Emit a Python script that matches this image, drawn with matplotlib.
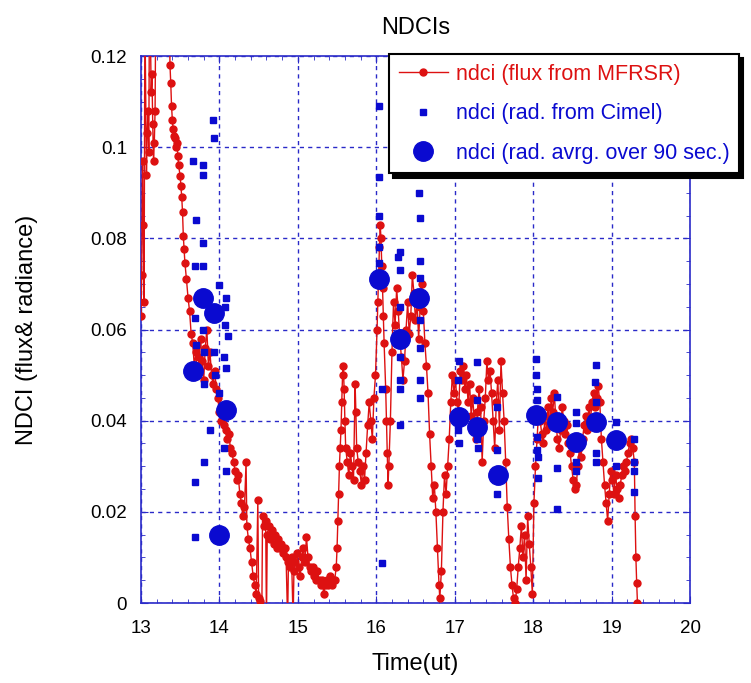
import matplotlib
matplotlib.use('Agg')
import matplotlib.pyplot as plt
from matplotlib.ticker import MultipleLocator

plt.rcParams['font.family'] = ['Liberation Sans', 'DejaVu Sans']

# ndci from MFRSR flux (time in hours UT)
flux_t = [13.00, 13.01, 13.02, 13.03, 13.04, 13.05, 13.07, 13.08, 13.09, 13.10,
          13.11, 13.13, 13.14, 13.15, 13.16, 13.17, 13.18, 13.19,
          13.36, 13.37, 13.38, 13.39, 13.40, 13.41, 13.42, 13.44, 13.45, 13.46,
          13.47, 13.48, 13.50, 13.51, 13.52, 13.53, 13.54, 13.55, 13.56, 13.58,
          13.60, 13.62, 13.64, 13.66, 13.68, 13.70, 13.72, 13.74, 13.76, 13.78,
          13.80, 13.82, 13.84, 13.86, 13.88, 13.90, 13.92, 13.94, 13.96, 13.98,
          14.00, 14.02, 14.04, 14.06, 14.08, 14.10, 14.12, 14.14, 14.16, 14.18,
          14.20, 14.22, 14.24, 14.26, 14.28, 14.30, 14.32, 14.34, 14.35, 14.37,
          14.39, 14.41, 14.43, 14.45, 14.47, 14.49, 14.50, 14.52, 14.54, 14.55,
          14.57, 14.59, 14.60, 14.61, 14.63, 14.65, 14.67, 14.69, 14.71, 14.73,
          14.75, 14.77, 14.79, 14.81, 14.83, 14.85, 14.87, 14.88, 14.90, 14.92,
          14.94, 14.95, 14.97, 14.99, 15.01, 15.03, 15.05, 15.07, 15.09, 15.11,
          15.13, 15.15, 15.17, 15.19, 15.21, 15.23, 15.25, 15.27, 15.29, 15.31,
          15.33, 15.35, 15.37, 15.39, 15.41, 15.43, 15.45, 15.47, 15.49, 15.50,
          15.51, 15.52, 15.53, 15.54, 15.55, 15.56, 15.57, 15.58, 15.59, 15.60,
          15.61, 15.63, 15.65, 15.67, 15.69, 15.71, 15.73, 15.74, 15.75, 15.77,
          15.79, 15.81, 15.83, 15.85, 15.87, 15.89, 15.91, 15.93, 15.95, 15.97,
          15.99, 16.01, 16.02, 16.03, 16.04, 16.05, 16.06, 16.07, 16.08, 16.09,
          16.10, 16.12, 16.13, 16.14, 16.15, 16.16, 16.18, 16.20, 16.22, 16.24,
          16.26, 16.28, 16.30, 16.32, 16.34, 16.36, 16.38, 16.40, 16.42, 16.44,
          16.46, 16.48, 16.50, 16.52, 16.54, 16.56, 16.58, 16.60, 16.62, 16.64,
          16.66, 16.68, 16.70, 16.72, 16.74, 16.76, 16.78, 16.80, 16.81, 16.83,
          16.85, 16.87, 16.89, 16.91, 16.93, 16.95, 16.97, 16.99, 17.01, 17.03,
          17.05, 17.07, 17.09, 17.11, 17.13, 17.15, 17.17, 17.19, 17.21, 17.23,
          17.25, 17.27, 17.29, 17.31, 17.33, 17.35, 17.37, 17.39, 17.41, 17.43,
          17.45, 17.47, 17.49, 17.51, 17.53, 17.55, 17.57, 17.59, 17.61, 17.63,
          17.65, 17.67, 17.69, 17.71, 17.73, 17.75, 17.77, 17.79, 17.81, 17.83,
          17.85, 17.87, 17.89, 17.91, 17.93, 17.95, 17.97, 17.99, 18.01, 18.03,
          18.05, 18.07, 18.09, 18.11, 18.13, 18.15, 18.17, 18.19, 18.21, 18.23,
          18.25, 18.27, 18.29, 18.31, 18.33, 18.35, 18.37, 18.39, 18.41, 18.43,
          18.45, 18.47, 18.49, 18.51, 18.53, 18.55, 18.57, 18.59, 18.61, 18.63,
          18.65, 18.67, 18.69, 18.71, 18.73, 18.75, 18.77, 18.79, 18.81, 18.83,
          18.85, 18.87, 18.89, 18.91, 18.93, 18.95, 18.97, 18.99, 19.01, 19.03,
          19.05, 19.07, 19.09, 19.11, 19.13, 19.15, 19.17, 19.19, 19.21, 19.23,
          19.25, 19.27, 19.29, 19.30, 19.31, 19.32, 19.33]
flux_v = [0.063, 0.072, 0.097, 0.083, 0.066, 0.130, 0.094, 0.103, 0.108, 0.099,
          0.140, 0.112, 0.116, 0.105, 0.097, 0.101, 0.108, 0.135,
          0.130, 0.118, 0.114, 0.109, 0.106, 0.104, 0.1025, 0.102, 0.100, 0.101,
          0.098, 0.096, 0.0936, 0.0914, 0.089, 0.0857, 0.0805, 0.0776, 0.0747, 0.071,
          0.067, 0.064, 0.059, 0.057, 0.052, 0.055, 0.050, 0.054, 0.058, 0.053,
          0.049, 0.056, 0.060, 0.052, 0.055, 0.050, 0.048, 0.051, 0.047, 0.045,
          0.042, 0.040, 0.041, 0.039, 0.038, 0.036, 0.037, 0.034, 0.033, 0.031,
          0.029, 0.027, 0.028, 0.024, 0.022, 0.019, 0.021, 0.031, 0.017, 0.014,
          0.012, 0.009, 0.006, 0.004, 0.002, 0.0226, 0.001, 0.0005, -0.004, 0.019,
          0.017, 0.018, -0.004, 0.015, 0.017, 0.014, 0.016, 0.013, 0.015, 0.012,
          0.014, 0.012, 0.013, 0.011, 0.012, 0.010, -0.004, 0.009, 0.008, 0.010,
          -0.004, 0.007, 0.009, 0.011, 0.008, 0.006, 0.010, 0.012, 0.009, 0.0145,
          0.010, 0.008, 0.007, 0.008, 0.006, 0.005, 0.007, 0.005, 0.004, 0.005,
          0.002, 0.004, 0.005, 0.004, 0.006, 0.004, 0.005, 0.005, 0.008, 0.012,
          0.018, 0.024, 0.030, 0.034, 0.038, 0.044, 0.050, 0.052, 0.047, 0.040,
          0.034, 0.031, 0.028, 0.033, 0.030, 0.027, 0.048, 0.042, 0.034, 0.031,
          0.029, 0.026, 0.030, 0.027, 0.033, 0.039, 0.044, 0.040, 0.036, 0.045,
          0.050, 0.060, 0.066, 0.072, 0.078, 0.083, 0.080, 0.074, 0.069, 0.063,
          0.057, 0.047, 0.040, 0.033, 0.026, 0.030, 0.040, 0.055, 0.066, 0.061,
          0.069, 0.064, 0.058, 0.054, 0.049, 0.053, 0.060, 0.066, 0.059, 0.063,
          0.072, 0.068, 0.062, 0.066, 0.058, 0.065, 0.070, 0.064, 0.057, 0.052,
          0.046, 0.037, 0.030, 0.023, 0.026, 0.020, 0.012, 0.004, 0.001, 0.007,
          0.020, 0.028, 0.024, 0.030, 0.036, 0.044, 0.050, 0.046, 0.049, 0.044,
          0.042, 0.051, 0.049, 0.052, 0.047, 0.050, 0.044, 0.048, 0.041, 0.045,
          0.040, 0.036, 0.042, 0.047, 0.043, 0.031, 0.040, 0.045, 0.053, 0.049,
          0.051, 0.046, 0.040, 0.034, 0.044, 0.049, 0.038, 0.053, 0.046, 0.040,
          0.031, 0.021, 0.014, 0.008, 0.004, 0.001, 0.000, 0.003, 0.008, 0.012,
          0.017, 0.010, 0.015, 0.005, 0.019, 0.013, 0.008, 0.002, 0.022, 0.030,
          0.036, 0.042, 0.040, 0.037, 0.035, 0.041, 0.038, 0.043, 0.039, 0.045,
          0.042, 0.046, 0.040, 0.036, 0.034, 0.038, 0.043, 0.040, 0.037, 0.039,
          0.035, 0.033, 0.030, 0.027, 0.025, 0.026, 0.030, 0.034, 0.032, 0.036,
          0.039, 0.041, 0.038, 0.043, 0.040, 0.044, 0.046, 0.043, 0.045, 0.0475,
          0.044, 0.036, 0.031, 0.026, 0.022, 0.018, 0.024, 0.029, 0.027, 0.024,
          0.028, 0.025, 0.023, 0.026, 0.028, 0.030, 0.029, 0.031, 0.033, 0.035,
          0.036, 0.034, 0.031, 0.019, 0.010, 0.0044, 0.000]

# ndci from Cimel radiances
cimel_t = [13.92, 13.93, 13.66, 13.79, 13.79, 13.70, 13.79, 13.69, 13.79, 14.00,
           14.08, 14.07, 14.07, 14.11, 13.79, 13.69, 13.70, 13.81, 13.93, 14.06,
           13.94, 14.08, 13.81, 13.88, 14.06, 13.80, 14.08, 13.99,
           16.04, 16.04, 16.54, 16.56, 16.04, 16.56, 16.30, 16.28, 16.04, 16.04,
           16.30, 16.56, 16.30, 16.56, 16.30, 16.56, 16.30, 16.56, 16.30, 16.56,
           16.07, 16.30, 16.07,
           17.06, 17.28, 17.04, 17.28, 17.54, 17.04, 17.05, 17.29, 17.30, 17.54,
           17.54,
           18.04, 18.04, 18.05, 18.05, 18.05, 18.05, 18.06, 18.06, 18.30, 18.30,
           18.30, 18.55, 18.55, 18.55, 18.55, 18.80, 18.79, 18.80, 18.80, 18.80,
           19.05, 19.05, 19.29, 19.29, 19.29, 19.29,
           13.69, 13.69]
cimel_v = [0.106, 0.102, 0.097, 0.096, 0.094, 0.084, 0.079, 0.074, 0.074, 0.0697,
           0.067, 0.065, 0.061, 0.0585, 0.060, 0.0626, 0.0567, 0.055, 0.055, 0.054,
           0.050, 0.0516, 0.048, 0.038, 0.034, 0.031, 0.029, 0.046,
           0.109, 0.0934, 0.090, 0.0844, 0.085, 0.075, 0.077, 0.076, 0.078, 0.0747,
           0.073, 0.0714, 0.065, 0.062, 0.054, 0.056, 0.049, 0.049, 0.047, 0.045,
           0.047, 0.039, 0.0088,
           0.053, 0.0528, 0.049, 0.0446, 0.043, 0.038, 0.035, 0.036, 0.034, 0.0336,
           0.024,
           0.0536, 0.050, 0.047, 0.0446, 0.0365, 0.0336, 0.032, 0.0275, 0.0453, 0.0297,
           0.0206, 0.042, 0.0395, 0.031, 0.029, 0.0523, 0.0484, 0.044, 0.033, 0.031,
           0.0398, 0.030, 0.036, 0.031, 0.029, 0.0244,
           0.0266, 0.0145]

# Cimel radiances averaged over 90 s
avg_t = [13.66, 13.79, 13.93, 14.08, 13.99, 16.04, 16.30, 16.55,
         17.05, 17.29, 17.55, 18.04, 18.30, 18.55, 18.80, 19.05]
avg_v = [0.0508, 0.067, 0.0637, 0.0424, 0.0149, 0.071, 0.058, 0.067,
         0.0409, 0.0387, 0.028, 0.0413, 0.0398, 0.0354, 0.0398, 0.0358]

red = '#dd1111'
blue = '#0a0ad0'
gridblue = '#2a2ac8'

fig = plt.figure(figsize=(7.51, 6.83), dpi=100)
ax = fig.add_axes([0.1877, 0.1171, 0.7311, 0.8009])

ax.plot(flux_t, flux_v, '-o', color=red, lw=1, ms=5, mec=red,
        label='ndci (flux from MFRSR)', zorder=3)
ax.plot(cimel_t, cimel_v, 's', color=blue, ms=5, ls='none',
        label='ndci (rad. from Cimel)', zorder=4)
ax.plot(avg_t, avg_v, 'o', color=blue, ms=14, ls='none',
        label='ndci (rad. avrg. over 90 sec.)', zorder=5)

ax.set_xlim(13, 20)
ax.set_ylim(0, 0.12)
ax.xaxis.set_major_locator(MultipleLocator(1))
ax.xaxis.set_minor_locator(MultipleLocator(0.2))
ax.yaxis.set_minor_locator(MultipleLocator(0.005))
ax.set_yticks([0, 0.02, 0.04, 0.06, 0.08, 0.1, 0.12])
ax.set_yticklabels(['0', '0.02', '0.04', '0.06', '0.08', '0.1', '0.12'])
ax.tick_params(which='both', direction='in', top=True, right=True,
               color=gridblue, labelsize=13.5)
ax.tick_params(axis='x', pad=12)
ax.tick_params(axis='y', pad=10)
ax.tick_params(which='major', length=5)
ax.tick_params(which='minor', length=3)
for s in ax.spines.values():
    s.set_color(gridblue)
    s.set_linewidth(1.2)
ax.grid(True, which='major', color=gridblue, ls=(0, (3, 3)), lw=1)

ax.set_title('NDCIs', fontsize=17, pad=16)
ax.set_xlabel('Time(ut)', fontsize=17, labelpad=12)
ax.set_ylabel('NDCI (flux& radiance)', fontsize=17, labelpad=38)

leg = ax.legend(loc='upper left', bbox_to_anchor=(0.518, 0.921),
                bbox_transform=fig.transFigure, borderaxespad=0,
                fontsize=15.5, labelcolor=[red, blue, blue], frameon=True,
                fancybox=False, edgecolor='black', framealpha=1,
                handlelength=2.3, handletextpad=0.35, labelspacing=0.86,
                borderpad=0.45, markerscale=1.0,
                shadow={'facecolor': 'black', 'edgecolor': 'black',
                        'alpha': 1, 'ox': 3, 'oy': -3})
leg.get_frame().set_linewidth(1.5)
leg.set_zorder(10)

fig.savefig('out.png', dpi=100)
